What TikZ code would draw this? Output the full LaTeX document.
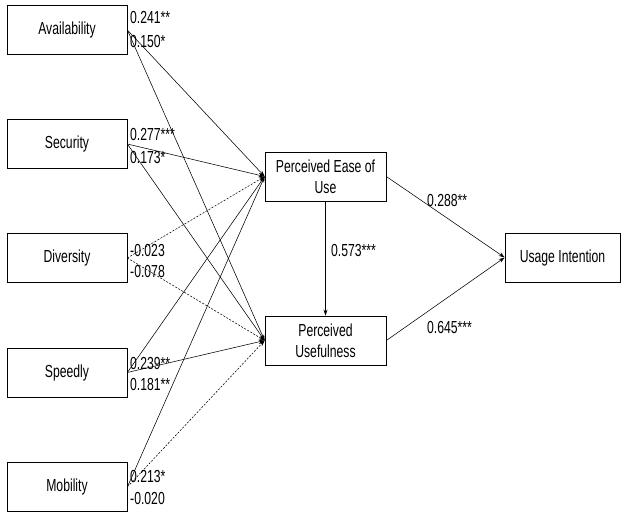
\documentclass[tikz,border=0pt]{standalone}
\usepackage{fontspec}
\setmainfont{Liberation Sans}[FakeStretch=0.7]
\usetikzlibrary{arrows.meta}
\begin{document}
\begin{tikzpicture}[x=1bp,y=-1bp,
  box/.style={draw,line width=0.7bp,minimum width=120bp,minimum height=49bp,inner sep=0pt,font=\fontsize{17.5}{21}\selectfont,align=center},
  lbl/.style={anchor=west,inner sep=0pt,font=\fontsize{17.5}{21}\selectfont},
  arr/.style={line width=0.55bp,-{Stealth[length=6bp,width=4bp]}},
  darr/.style={arr,dash pattern=on 2bp off 1.5bp}]
\useasboundingbox (0,0) rectangle (621,513);
\node[box] (av) at (67,30) {Availability};
\node[box] (se) at (67,144) {Security};
\node[box] (di) at (67,258) {Diversity};
\node[box] (sp) at (67,372.5) {Speedly};
\node[box] (mo) at (67,487) {Mobility};
\node[box,minimum width=121bp] (peu) at (325.5,176.5) {Perceived Ease of\\Use};
\node[box,minimum width=121bp] (pu) at (325.5,340.5) {Perceived\\Usefulness};
\node[box,minimum width=115bp] (ui) at (562.5,257.5) {Usage Intention};
\draw[arr] (av.east) -- (peu.west);
\draw[arr] (av.east) -- (pu.west);
\draw[arr] (se.east) -- (peu.west);
\draw[arr] (se.east) -- (pu.west);
\draw[darr] (di.east) -- (peu.west);
\draw[darr] (di.east) -- (pu.west);
\draw[arr] (sp.east) -- (peu.west);
\draw[arr] (sp.east) -- (pu.west);
\draw[arr] (mo.east) -- (peu.west);
\draw[darr] (mo.east) -- (pu.west);
\draw[arr] (peu.south) -- (pu.north);
\draw[arr] (peu.east) -- (ui.west);
\draw[arr] (pu.east) -- (ui.west);
\node[lbl] (l1) at (130,18) {0.241**};
\node[lbl] (l2) at (130,42) {0.150*};
\node[lbl] (l3) at (130,134) {0.277***};
\node[lbl] (l4) at (130,157) {0.173*};
\node[lbl] (l5) at (130,250) {-0.023};
\node[lbl] (l6) at (130,271) {-0.078};
\node[lbl] (l7) at (130,363) {0.239**};
\node[lbl] (l8) at (130,384) {0.181**};
\node[lbl] (l9) at (130,476) {0.213*};
\node[lbl] (l10) at (130,498) {-0.020};
\node[lbl] (l11) at (427,200) {0.288**};
\node[lbl] (l12) at (331,250) {0.573***};
\node[lbl] (l13) at (427,327) {0.645***};
\end{tikzpicture}
\end{document}
